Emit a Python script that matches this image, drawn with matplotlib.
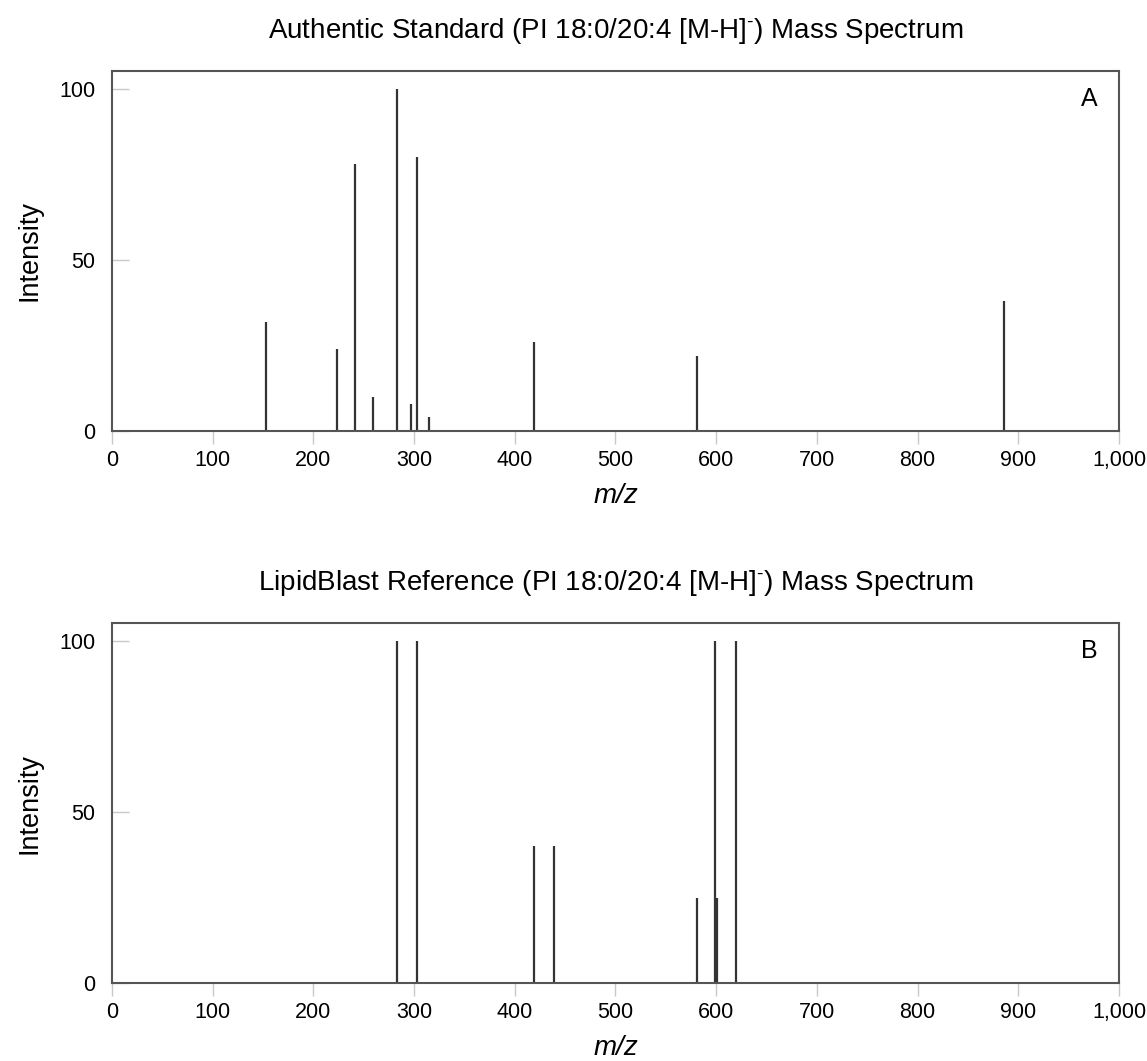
import matplotlib
matplotlib.use("Agg")
import matplotlib.pyplot as plt

plt.rcParams['font.family'] = ['Liberation Sans', 'DejaVu Sans']
plt.rcParams['mathtext.fontset'] = 'custom'
plt.rcParams['mathtext.rm'] = 'Liberation Sans'
plt.rcParams['mathtext.it'] = 'Liberation Sans:italic'

# panel A: authentic standard
mz_a = [153.0, 223.0, 241.0, 259.0, 283.3, 297.0, 303.2, 315.0, 419.3, 581.3, 885.5]
int_a = [32, 24, 78, 10, 100, 8, 80, 4, 26, 22, 38]

# panel B: LipidBlast reference
mz_b = [283.3, 303.2, 419.3, 439.3, 581.3, 599.3, 601.3, 619.3]
int_b = [100, 100, 40, 40, 25, 100, 25, 100]

titles = [r"Authentic Standard (PI 18:0/20:4 [M-H]$^{\text{-}}$) Mass Spectrum",
          r"LipidBlast Reference (PI 18:0/20:4 [M-H]$^{\text{-}}$) Mass Spectrum"]
letters = ["A", "B"]
xticks = [0, 100, 200, 300, 400, 500, 600, 700, 800, 900, 1000]
xticklabels = ["0", "100", "200", "300", "400", "500", "600", "700", "800", "900", "1,000"]
yticks = [0, 50, 100]

fig = plt.figure(figsize=(11.47, 10.61), dpi=100)
ax_a = fig.add_axes([0.0976, 0.5938, 0.878, 0.3393])
ax_b = fig.add_axes([0.0976, 0.0735, 0.878, 0.3393])

for ax, mz, inten, title, letter in zip([ax_a, ax_b], [mz_a, mz_b], [int_a, int_b], titles, letters):
    ax.vlines(mz, 0, inten, colors="#333333", linewidth=1.6)
    ax.set_xlim(0, 1000)
    ax.set_ylim(0, 105.3)
    ax.set_xticks(xticks)
    ax.set_xticklabels(xticklabels)
    ax.set_yticks(yticks)
    ax.tick_params(axis='x', direction='out', length=9, width=1, color='#c8c8c8',
                   labelsize=15.5, pad=5)
    ax.tick_params(axis='y', direction='in', length=12, width=1, color='#c8c8c8',
                   labelsize=15.5, pad=12)
    for sp in ax.spines.values():
        sp.set_color('#555555')
        sp.set_linewidth(1.5)
    ax.set_title(title, fontsize=20, pad=24)
    ax.set_ylabel("Intensity", fontsize=19.5, labelpad=12)
    ax.set_xlabel("m/z", fontsize=20, fontstyle='italic', labelpad=8)
    ax.text(0.979, 0.955, letter, transform=ax.transAxes, ha='right', va='top', fontsize=18)

plt.savefig("out.png", dpi=100)
